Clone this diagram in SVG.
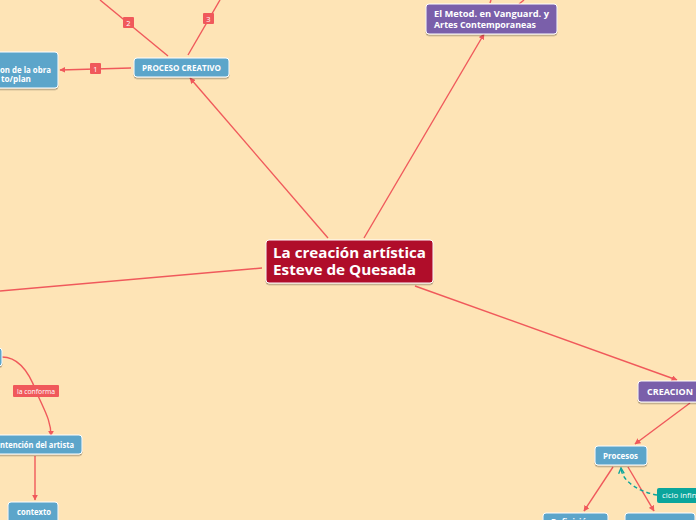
<svg xmlns="http://www.w3.org/2000/svg" width="696" height="520" viewBox="0 0 696 520">
<defs>
<marker id="arr" viewBox="0 0 10 10" refX="9" refY="5" markerWidth="6" markerHeight="6" orient="auto" markerUnits="userSpaceOnUse">
<path d="M0,0 L10,5 L0,10 z" fill="#F0595B"/>
</marker>
<marker id="arrT" viewBox="0 0 10 10" refX="9" refY="5" markerWidth="7" markerHeight="7" orient="auto" markerUnits="userSpaceOnUse">
<path d="M1,1 L9,5 L1,9" fill="none" stroke="#0BA59C" stroke-width="2"/>
</marker>
<filter id="sh" x="-10%" y="-10%" width="120%" height="140%">
<feDropShadow dx="0" dy="1.5" stdDeviation="0.6" flood-color="#000" flood-opacity="0.3"/>
</filter>
</defs>
<style>
.ln{fill:none;stroke:#F0595B;stroke-width:1.4}
.blue{fill:#5CA5CA;stroke:#fff;stroke-width:1;filter:url(#sh)}
.purp{fill:#7A5FAA;stroke:#fff;stroke-width:1;filter:url(#sh)}
.main{fill:#B0092B;stroke:#fff;stroke-width:1;filter:url(#sh)}
.t{font-family:"Open Sans","DejaVu Sans",sans-serif;font-weight:bold;fill:#fff}
.lab{fill:#F0595B}
.lt{font-family:"Open Sans","DejaVu Sans",sans-serif;fill:#fff;font-size:7.5px}
</style>
<rect width="696" height="520" fill="#FEE4B6"/>
<g id="connectors">
<line class="ln" x1="328" y1="238" x2="190" y2="78" marker-end="url(#arr)"/>
<line class="ln" x1="364" y1="238" x2="484" y2="34" marker-end="url(#arr)"/>
<line class="ln" x1="262" y1="268" x2="0" y2="291"/>
<line class="ln" x1="415" y1="286" x2="677" y2="380" marker-end="url(#arr)"/>
<line class="ln" x1="131" y1="68" x2="60" y2="70" marker-end="url(#arr)"/>
<line class="ln" x1="168" y1="56" x2="100" y2="0"/>
<line class="ln" x1="188" y1="55" x2="220" y2="0"/>
<line class="ln" x1="490" y1="3" x2="491" y2="0"/>
<line class="ln" x1="519" y1="4" x2="524" y2="0"/>
<line class="ln" x1="690" y1="403" x2="635" y2="444" marker-end="url(#arr)"/>
<line class="ln" x1="613" y1="467" x2="584" y2="511" marker-end="url(#arr)"/>
<line class="ln" x1="628" y1="467" x2="654" y2="511" marker-end="url(#arr)"/>
<path d="M657,495 C640,492 622,482 621,468" fill="none" stroke="#0BA59C" stroke-width="1.4" stroke-dasharray="4,3" marker-end="url(#arrT)"/>
<path class="ln" d="M2,357 C20,357 30,375 36,391 C44,410 51,420 51,436" marker-end="url(#arr)"/>
<line class="ln" x1="35" y1="456" x2="35" y2="500" marker-end="url(#arr)"/>
<rect class="lab" x="90" y="63" width="11" height="11" rx="1"/>
<text class="lt" x="95.5" y="71.5" text-anchor="middle">1</text>
<rect class="lab" x="123" y="17" width="11" height="11" rx="1"/>
<text class="lt" x="128.5" y="25.5" text-anchor="middle">2</text>
<rect class="lab" x="203" y="13" width="11" height="11" rx="1"/>
<text class="lt" x="208.5" y="21.5" text-anchor="middle">3</text>
<rect class="lab" x="13" y="385" width="46" height="12" rx="1"/>
<text class="lt" x="17" y="393.5" textLength="38" lengthAdjust="spacingAndGlyphs">la conforma</text>
<rect x="657" y="488" width="45" height="15" rx="2" fill="#0BA59C"/>
<text class="lt" x="662" y="498" textLength="44" lengthAdjust="spacingAndGlyphs">ciclo infinito</text>
</g>
<g id="central">
<rect class="main" x="266" y="240" width="167" height="43" rx="3"/>
<text class="t" x="273" y="258" font-size="14" textLength="153" lengthAdjust="spacingAndGlyphs">La creación artística</text>
<text class="t" x="273" y="274.5" font-size="14" textLength="143" lengthAdjust="spacingAndGlyphs">Esteve de Quesada</text>
</g>
<g id="proceso">
<rect class="blue" x="134" y="58" width="95" height="19" rx="3"/>
<text class="t" x="142" y="70.5" font-size="8" textLength="79" lengthAdjust="spacingAndGlyphs">PROCESO CREATIVO</text>
</g>
<g id="obra">
<rect class="blue" x="-10" y="52" width="68" height="36" rx="3"/>
<text class="t" x="0" y="73" font-size="8" textLength="51" lengthAdjust="spacingAndGlyphs">on de la obra</text>
<text class="t" x="1" y="81.5" font-size="8" textLength="30" lengthAdjust="spacingAndGlyphs">to/plan</text>
</g>
<g id="metod">
<rect class="purp" x="426" y="4" width="131" height="30" rx="3"/>
<text class="t" x="434" y="17" font-size="9" textLength="115" lengthAdjust="spacingAndGlyphs">El Metod.  en Vanguard. y</text>
<text class="t" x="434" y="27.5" font-size="9" textLength="102" lengthAdjust="spacingAndGlyphs">Artes Contemporaneas</text>
</g>
<g id="creacion">
<rect class="purp" x="638" y="381" width="70" height="21" rx="3"/>
<text class="t" x="647" y="395" font-size="9" textLength="46" lengthAdjust="spacingAndGlyphs">CREACION</text>
</g>
<g id="procesos">
<rect class="blue" x="595" y="446" width="52" height="19" rx="3"/>
<text class="t" x="603" y="458.5" font-size="8" textLength="35" lengthAdjust="spacingAndGlyphs">Procesos</text>
</g>
<g id="definicion">
<rect class="blue" x="543" y="513" width="65" height="20" rx="3"/>
<text class="t" x="551" y="525" font-size="8">Definición</text>
</g>
<g id="otro">
<rect class="blue" x="625" y="513" width="70" height="20" rx="3"/>
</g>
<g id="leftnode">
<rect class="blue" x="-20" y="348" width="22" height="18" rx="3"/>
</g>
<g id="intencion">
<rect class="blue" x="-10" y="435" width="92" height="19" rx="3"/>
<text class="t" x="0" y="447.5" font-size="8" textLength="74" lengthAdjust="spacingAndGlyphs">ntención del artista</text>
</g>
<g id="contexto">
<rect class="blue" x="8" y="502" width="50" height="22" rx="3"/>
<text class="t" x="17" y="514.5" font-size="8" textLength="34" lengthAdjust="spacingAndGlyphs">contexto</text>
</g>
</svg>
